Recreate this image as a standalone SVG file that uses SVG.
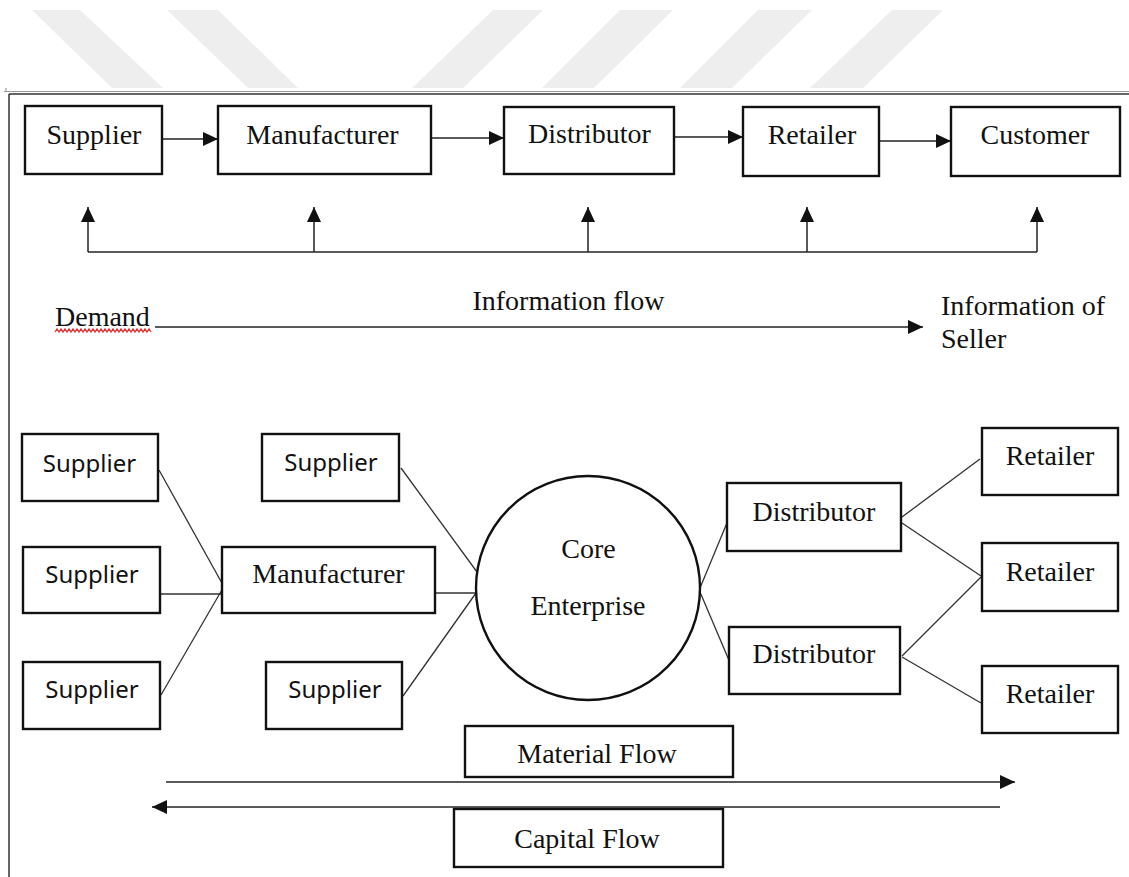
<svg xmlns="http://www.w3.org/2000/svg" width="1129" height="877" viewBox="0 0 1129 877">
  <style>
    .bg { fill: #ffffff; }
    .stripe { fill: #eeeeee; }
    .box { fill: #ffffff; stroke: #111111; stroke-width: 2.4; }
    .core { fill: #ffffff; stroke: #111111; stroke-width: 2.4; }
    .link { fill: none; stroke: #333333; stroke-width: 1.3; }
    .flow { fill: none; stroke: #222222; stroke-width: 1.5; }
    .serif { font-family: "Liberation Serif", "Times New Roman", serif; font-size: 28px; fill: #111111; }
    .sans { font-family: "Noto Sans", "Open Sans", sans-serif; font-size: 24px; fill: #111111; }
    .mid { text-anchor: middle; }
    .frame { fill: none; stroke: #333333; stroke-width: 1.5; }
    .frame2 { fill: none; stroke: #9a9a9a; stroke-width: 1.2; }
    .squiggle { fill: none; stroke: #e03030; stroke-width: 1.3; }
  </style>
  <defs>
    <marker id="head" markerUnits="userSpaceOnUse" markerWidth="15" markerHeight="14" refX="15" refY="7" orient="auto">
      <path d="M0,0 L15,7 L0,14 Z" fill="#111111"/>
    </marker>
  </defs>

  <rect class="bg" x="0" y="0" width="1129" height="877"/>

  <!-- faint banner stripes along the top edge -->
  <g id="banner">
    <polygon class="stripe" points="32,10 80,10 163,88 112,88"/>
    <polygon class="stripe" points="167,10 218,10 298,88 248,88"/>
    <polygon class="stripe" points="493,10 543,10 463,88 412,88"/>
    <polygon class="stripe" points="620,10 673,10 594,88 542,88"/>
    <polygon class="stripe" points="758,10 812,10 732,88 680,88"/>
    <polygon class="stripe" points="892,10 943,10 863,88 810,88"/>
  </g>

  <!-- page frame -->
  <g id="frame">
    <line class="frame2" x1="4" y1="91.5" x2="1129" y2="91.5"/>
    <line class="frame" x1="9" y1="94" x2="1129" y2="94"/>
    <line class="frame" x1="9" y1="94" x2="9" y2="877"/>
    <line class="frame2" x1="6" y1="88" x2="6" y2="92"/>
  </g>

  <!-- connectors -->
  <g id="connectors">
    <!-- linear chain -->
    <line class="flow" x1="162" y1="139" x2="218" y2="139" marker-end="url(#head)"/>
    <line class="flow" x1="431" y1="138" x2="504" y2="138" marker-end="url(#head)"/>
    <line class="flow" x1="675" y1="137" x2="743" y2="137" marker-end="url(#head)"/>
    <line class="flow" x1="879" y1="141" x2="951" y2="141" marker-end="url(#head)"/>

    <!-- information feedback -->
    <line class="flow" x1="88" y1="252" x2="1037" y2="252"/>
    <line class="flow" x1="88" y1="252" x2="88" y2="207" marker-end="url(#head)"/>
    <line class="flow" x1="314" y1="252" x2="314" y2="207" marker-end="url(#head)"/>
    <line class="flow" x1="588" y1="252" x2="588" y2="207" marker-end="url(#head)"/>
    <line class="flow" x1="807" y1="252" x2="807" y2="207" marker-end="url(#head)"/>
    <line class="flow" x1="1037" y1="252" x2="1037" y2="207" marker-end="url(#head)"/>

    <!-- demand to seller -->
    <line class="flow" x1="155" y1="327" x2="923" y2="327" marker-end="url(#head)"/>

    <!-- network links -->
    <line class="link" x1="159" y1="470" x2="223" y2="585"/>
    <line class="link" x1="161" y1="594" x2="222" y2="594"/>
    <line class="link" x1="161" y1="695" x2="223" y2="588"/>
    <line class="link" x1="401" y1="468" x2="477" y2="572"/>
    <line class="link" x1="436" y1="593" x2="476" y2="593"/>
    <line class="link" x1="403" y1="696" x2="476" y2="593"/>
    <line class="link" x1="700" y1="588" x2="729" y2="518"/>
    <line class="link" x1="700" y1="592" x2="731" y2="665"/>
    <line class="link" x1="902" y1="517" x2="980" y2="459"/>
    <line class="link" x1="902" y1="523" x2="981" y2="576"/>
    <line class="link" x1="902" y1="656" x2="981" y2="577"/>
    <line class="link" x1="902" y1="657" x2="981" y2="703"/>

    <!-- material and capital flows -->
    <line class="flow" x1="166" y1="782" x2="1015" y2="782" marker-end="url(#head)"/>
    <line class="flow" x1="1000" y1="807" x2="152" y2="807" marker-end="url(#head)"/>
  </g>

  <!-- linear chain nodes -->
  <g id="chain-supplier">
    <rect class="box" x="25" y="106" width="137" height="68"/>
    <text class="serif mid" x="94" y="144">Supplier</text>
  </g>
  <g id="chain-manufacturer">
    <rect class="box" x="218" y="106" width="213" height="68"/>
    <text class="serif mid" x="322.5" y="144">Manufacturer</text>
  </g>
  <g id="chain-distributor">
    <rect class="box" x="504" y="107" width="170" height="67"/>
    <text class="serif mid" x="589.5" y="143">Distributor</text>
  </g>
  <g id="chain-retailer">
    <rect class="box" x="743" y="107" width="136" height="69"/>
    <text class="serif mid" x="812" y="144">Retailer</text>
  </g>
  <g id="chain-customer">
    <rect class="box" x="951" y="107" width="169" height="69"/>
    <text class="serif mid" x="1035" y="144">Customer</text>
  </g>

  <!-- information flow labels -->
  <g id="info-labels">
    <text class="serif mid" x="568.5" y="310">Information flow</text>
    <text class="serif" x="55" y="326">Demand</text>
    <path class="squiggle" d="M55,332 l2,-3 l2,3 l2,-3 l2,3 l2,-3 l2,3 l2,-3 l2,3 l2,-3 l2,3 l2,-3 l2,3 l2,-3 l2,3 l2,-3 l2,3 l2,-3 l2,3 l2,-3 l2,3 l2,-3 l2,3 l2,-3 l2,3 l2,-3 l2,3 l2,-3 l2,3 l2,-3 l2,3 l2,-3 l2,3 l2,-3 l2,3 l2,-3 l2,3 l2,-3 l2,3 l2,-3 l2,3 l2,-3 l2,3 l2,-3 l2,3 l2,-3 l2,3 l2,-3 l2,3"/>
    <text class="serif" x="941" y="315">Information of</text>
    <text class="serif" x="941" y="348">Seller</text>
  </g>

  <!-- supply network nodes -->
  <g id="net-supplier-1">
    <rect class="box" x="22" y="434" width="136" height="67"/>
    <text class="sans mid" x="89.5" y="472">Supplier</text>
  </g>
  <g id="net-supplier-2">
    <rect class="box" x="23" y="547" width="137" height="66"/>
    <text class="sans mid" x="92" y="583">Supplier</text>
  </g>
  <g id="net-supplier-3">
    <rect class="box" x="23" y="662" width="137" height="67"/>
    <text class="sans mid" x="92" y="698">Supplier</text>
  </g>
  <g id="net-supplier-4">
    <rect class="box" x="262" y="434" width="137" height="67"/>
    <text class="sans mid" x="331" y="471">Supplier</text>
  </g>
  <g id="net-supplier-5">
    <rect class="box" x="266" y="662" width="136" height="67"/>
    <text class="sans mid" x="335" y="698">Supplier</text>
  </g>
  <g id="net-manufacturer">
    <rect class="box" x="222" y="547" width="213" height="66"/>
    <text class="serif mid" x="328.5" y="583">Manufacturer</text>
  </g>
  <g id="net-core">
    <circle class="core" cx="588" cy="588" r="112"/>
    <text class="serif mid" x="588.5" y="558">Core</text>
    <text class="serif mid" x="588" y="615">Enterprise</text>
  </g>
  <g id="net-distributor-1">
    <rect class="box" x="727" y="483" width="174" height="68"/>
    <text class="serif mid" x="814" y="521">Distributor</text>
  </g>
  <g id="net-distributor-2">
    <rect class="box" x="729" y="627" width="171" height="67"/>
    <text class="serif mid" x="814" y="663">Distributor</text>
  </g>
  <g id="net-retailer-1">
    <rect class="box" x="982" y="428" width="136" height="67"/>
    <text class="serif mid" x="1050" y="465">Retailer</text>
  </g>
  <g id="net-retailer-2">
    <rect class="box" x="982" y="543" width="136" height="68"/>
    <text class="serif mid" x="1050" y="581">Retailer</text>
  </g>
  <g id="net-retailer-3">
    <rect class="box" x="982" y="666" width="136" height="67"/>
    <text class="serif mid" x="1050" y="703">Retailer</text>
  </g>

  <!-- flow captions -->
  <g id="material-flow">
    <rect class="box" x="465" y="726" width="268" height="51"/>
    <text class="serif mid" x="597" y="763">Material Flow</text>
  </g>
  <g id="capital-flow">
    <rect class="box" x="454" y="809" width="269" height="58"/>
    <text class="serif mid" x="587" y="848">Capital Flow</text>
  </g>
</svg>
